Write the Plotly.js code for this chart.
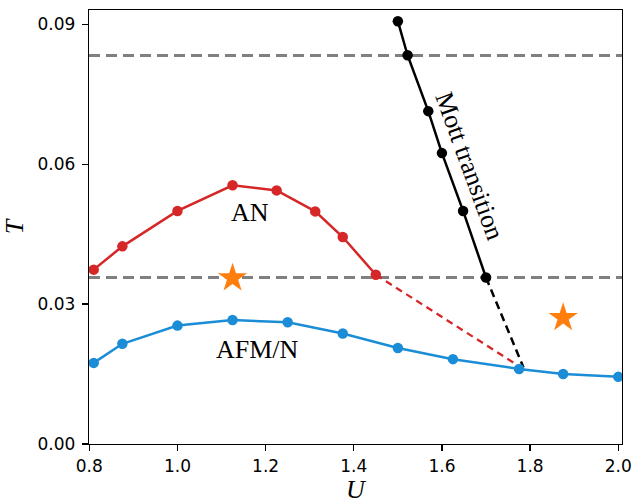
<!DOCTYPE html>
<html>
<head>
<meta charset="utf-8">
<script src="https://cdn.plot.ly/plotly-3.0.1.min.js"></script>
<style>html,body{margin:0;padding:0;background:#fff;}#chart{width:634px;height:504px;}</style>
</head>
<body>
<div id="chart"></div>
<script>
// AN (red) transition line
const anU = [0.81, 0.875, 1.0, 1.125, 1.225, 1.3125, 1.375, 1.45];
const anT = [0.0374, 0.0424, 0.0500, 0.0555, 0.0544, 0.0499, 0.0444, 0.0363];
// AN extrapolation (dashed)
const anExtU = [1.45, 1.78];
const anExtT = [0.0363, 0.0164];
// AFM/N (blue) transition line
const afmU = [0.81, 0.875, 1.0, 1.125, 1.25, 1.375, 1.5, 1.625, 1.775, 1.875, 2.0];
const afmT = [0.0174, 0.0215, 0.0254, 0.0266, 0.0261, 0.0237, 0.0206, 0.0182, 0.0161, 0.0150, 0.0144];
// Mott transition (black)
const mottU = [1.5, 1.522, 1.569, 1.6, 1.648, 1.7];
const mottT = [0.0907, 0.0834, 0.0714, 0.0624, 0.0500, 0.0357];
// Mott extrapolation (dashed)
const mottExtU = [1.7, 1.785];
const mottExtT = [0.0357, 0.0164];
// Stars
const starU = [1.125, 1.875];
const starT = [0.0356, 0.0271];
// Horizontal reference temperatures
const refT = [1/12, 1/28];
// Labels
const labels = [
  {text: "AN", u: 1.165, t: 0.0497, angle: 0},
  {text: "AFM/N", u: 1.182, t: 0.0202, angle: 0},
  {text: "Mott transition", u: 1.662, t: 0.0597, angle: 70}
];
const yTicks = [0.00, 0.03, 0.06, 0.09];
const yTickText = ["0.00", "0.03", "0.06", "0.09"];
const xTicks = [0.8, 1.0, 1.2, 1.4, 1.6, 1.8, 2.0];
const xTickText = ["0.8", "1.0", "1.2", "1.4", "1.6", "1.8", "2.0"];

const red = "#d62728", blue = "#1b8dd6", serif = "Liberation Serif, DejaVu Serif, serif";

const traces = [
  {x: anExtU, y: anExtT, mode: "lines", line: {color: red, width: 2.3, dash: "7px,5px"}},
  {x: mottExtU, y: mottExtT, mode: "lines", line: {color: "#000", width: 2.5, dash: "8px,5px"}},
  {x: afmU, y: afmT, mode: "lines+markers", line: {color: blue, width: 2.5}, marker: {color: blue, size: 10.5}},
  {x: anU, y: anT, mode: "lines+markers", line: {color: red, width: 2.5}, marker: {color: red, size: 10.5}},
  {x: mottU, y: mottT, mode: "lines+markers", line: {color: "#000", width: 2.5}, marker: {color: "#000", size: 10.5}},
  {x: starU, y: starT, mode: "markers", marker: {symbol: "star", color: "#ff7f0e", size: 22, line: {width: 0}}}
];

const shapes = refT.map(t => ({
  type: "line", xref: "paper", x0: 0, x1: 1, yref: "y", y0: t, y1: t,
  line: {color: "#808080", width: 3, dash: "11px,6px"}, layer: "below"
}));

const annotations = labels.map(l => ({
  x: l.u, y: l.t, xref: "x", yref: "y", text: l.text, showarrow: false,
  textangle: l.angle, font: {family: serif, size: 26, color: "#000"},
  xanchor: "center", yanchor: "middle"
}));

const axisCommon = {
  showgrid: false, zeroline: false, showline: true, linecolor: "#000", linewidth: 1.3,
  mirror: true, ticks: "outside", ticklen: 6, tickwidth: 1.3, tickcolor: "#000",
  tickfont: {family: "DejaVu Sans, sans-serif", size: 17, color: "#000"}
};

const layout = {
  width: 634, height: 504,
  margin: {l: 89, r: 12, t: 10, b: 60},
  paper_bgcolor: "#fff", plot_bgcolor: "#fff",
  showlegend: false,
  xaxis: Object.assign({}, axisCommon, {
    range: [0.7993, 2.0085], tickvals: xTicks, ticktext: xTickText,
    title: {text: "<i>U</i>", font: {family: serif, size: 26, color: "#000"}, standoff: 4}
  }),
  yaxis: Object.assign({}, axisCommon, {
    range: [0, 0.0931], tickvals: yTicks, ticktext: yTickText, ticklabelstandoff: 3,
    title: {text: "<i>T</i>", font: {family: serif, size: 26, color: "#000"}, standoff: 12}
  }),
  shapes: shapes,
  annotations: annotations
};

Plotly.newPlot("chart", traces, layout, {displayModeBar: false, staticPlot: true});
</script>
</body>
</html>
